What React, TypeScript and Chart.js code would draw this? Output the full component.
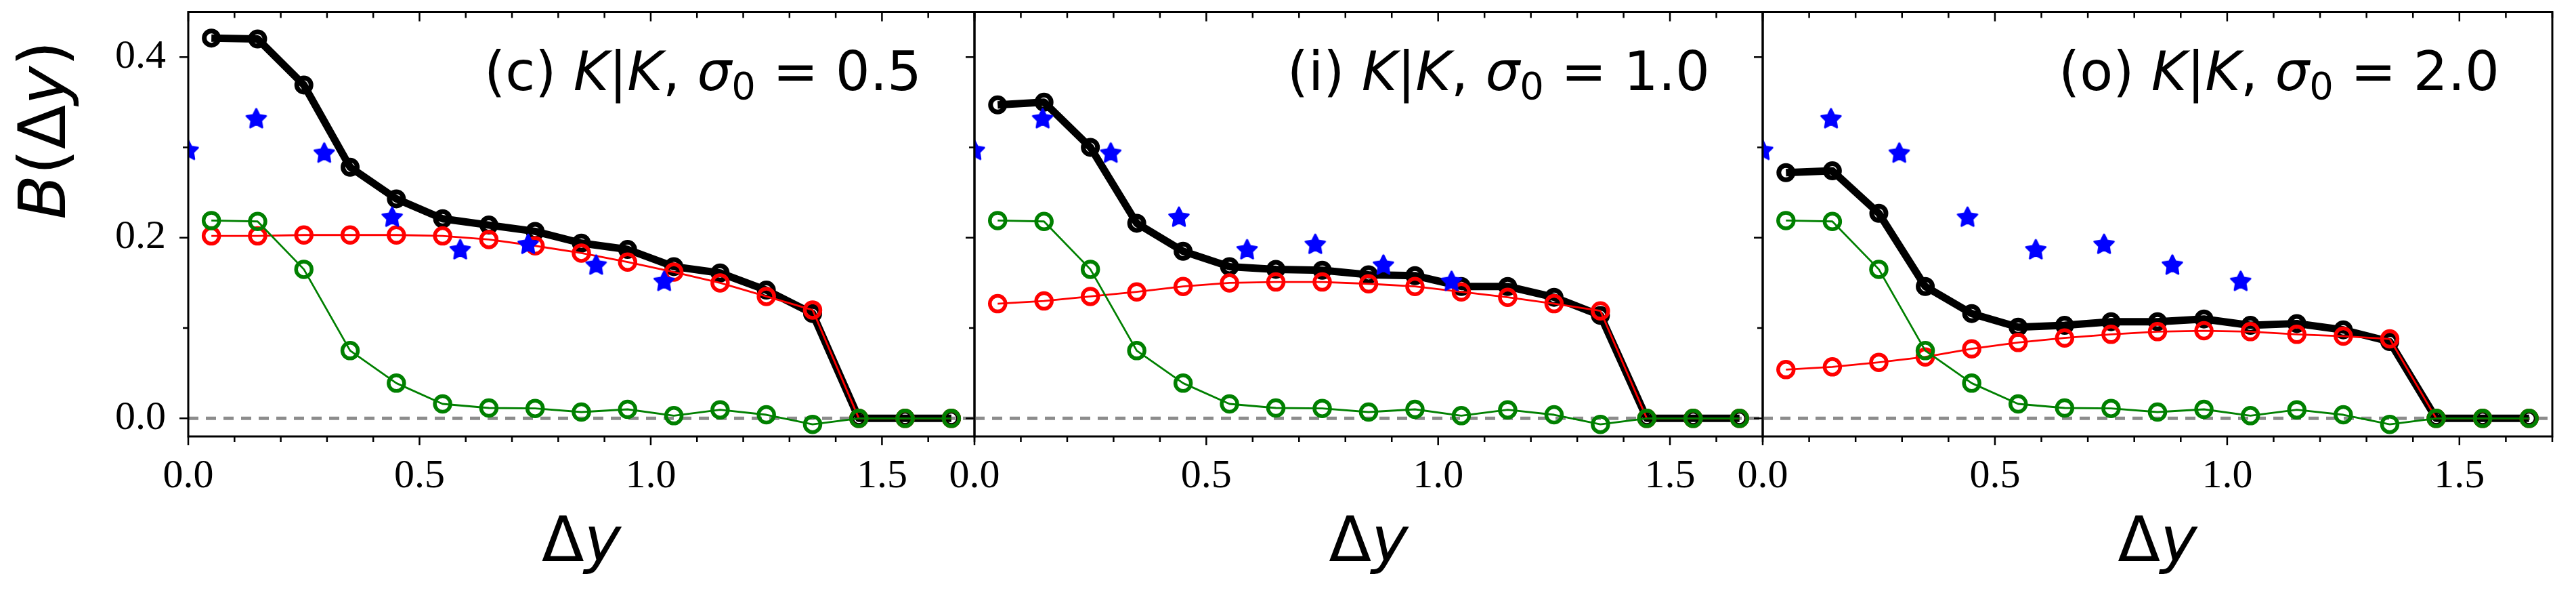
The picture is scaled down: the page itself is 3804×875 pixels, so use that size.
import React, { useEffect, useRef } from "react";
import { Chart, registerables } from "chart.js";

Chart.register(...registerables);

// ---------------- data ----------------
const X_VALUES = [0.05, 0.15, 0.25, 0.35, 0.45, 0.55, 0.65, 0.75, 0.85, 0.95, 1.05, 1.15, 1.25, 1.35, 1.45, 1.55, 1.65];

const STAR_X = [0.0, 0.147, 0.294, 0.441, 0.588, 0.735, 0.882, 1.029];
const STAR_Y = [0.297, 0.332, 0.294, 0.223, 0.187, 0.193, 0.17, 0.152];

const GREEN_VALUES = [0.219, 0.218, 0.165, 0.075, 0.039, 0.016, 0.0115, 0.011, 0.007, 0.01, 0.003, 0.0095, 0.004, -0.0066, 0, 0, 0];

const BLACK_C = [0.421, 0.42, 0.369, 0.278, 0.243, 0.221, 0.214, 0.207, 0.194, 0.187, 0.168, 0.161, 0.142, 0.116, 0, 0, 0];
const RED_C = [0.202, 0.202, 0.203, 0.203, 0.203, 0.202, 0.198, 0.191, 0.183, 0.173, 0.162, 0.15, 0.135, 0.12, 0, 0, 0];

const BLACK_I = [0.347, 0.35, 0.3, 0.216, 0.185, 0.168, 0.165, 0.164, 0.159, 0.158, 0.146, 0.146, 0.134, 0.114, 0, 0, 0];
const RED_I = [0.127, 0.13, 0.135, 0.14, 0.146, 0.15, 0.151, 0.151, 0.149, 0.146, 0.14, 0.134, 0.127, 0.119, 0, 0, 0];

const BLACK_O = [0.272, 0.274, 0.227, 0.146, 0.116, 0.101, 0.103, 0.107, 0.107, 0.11, 0.103, 0.105, 0.098, 0.085, 0, 0, 0];
const RED_O = [0.054, 0.057, 0.062, 0.068, 0.077, 0.084, 0.089, 0.093, 0.096, 0.097, 0.096, 0.093, 0.091, 0.088, 0, 0, 0];

const PANEL_LETTERS = ["(c)", "(i)", "(o)"];
const SIGMA_LABELS = ["0.5", "1.0", "2.0"];
const BLACK_SERIES = [BLACK_C, BLACK_I, BLACK_O];
const RED_SERIES = [RED_C, RED_I, RED_O];

const X_MIN = 0;
const X_MAX = 1.7;
const Y_MIN = -0.02;
const Y_MAX = 0.45;
const X_MAJOR = [0, 0.5, 1.0, 1.5];
const X_MINOR = [0.1, 0.2, 0.3, 0.4, 0.6, 0.7, 0.8, 0.9, 1.1, 1.2, 1.3, 1.4, 1.6, 1.7];
const Y_MAJOR = [0, 0.2, 0.4];
const Y_MINOR = [0.1, 0.3];

// ---------------- layout ----------------
const W = 3804;
const H = 875;
const PANEL_EDGES = [278, 1439, 2603, 3769];
const PLOT_TOP = 5;
const PLOT_BOTTOM = 644;
const Y_AXIS_W = 200;
const X_AXIS_H = 130;

const SANS = "'DejaVu Sans', sans-serif";
const SERIF = "'Liberation Serif', serif";

function makeStar(color: string, outer: number, inner: number): HTMLCanvasElement {
  const size = Math.ceil(outer * 2) + 6;
  const c = document.createElement("canvas");
  c.width = size;
  c.height = size;
  const g = c.getContext("2d")!;
  const cx = size / 2;
  const cy = size / 2 + 1;
  g.beginPath();
  for (let k = 0; k < 10; k++) {
    const r = k % 2 === 0 ? outer : inner;
    const a = -Math.PI / 2 + (k * Math.PI) / 5;
    const px = cx + r * Math.cos(a);
    const py = cy + r * Math.sin(a);
    if (k === 0) g.moveTo(px, py);
    else g.lineTo(px, py);
  }
  g.closePath();
  g.fillStyle = color;
  g.fill();
  g.strokeStyle = color;
  g.lineJoin = "round";
  g.lineWidth = 3;
  g.stroke();
  return c;
}

type Seg = { t: string; font: string; dy?: number };

function drawSegs(ctx: CanvasRenderingContext2D, segs: Seg[], x: number, y: number, align: "left" | "right" | "center") {
  let total = 0;
  const widths = segs.map((s) => {
    ctx.font = s.font;
    const w = ctx.measureText(s.t).width;
    total += w;
    return w;
  });
  let cur = align === "left" ? x : align === "right" ? x - total : x - total / 2;
  ctx.textAlign = "left";
  ctx.textBaseline = "alphabetic";
  segs.forEach((s, i) => {
    ctx.font = s.font;
    ctx.fillText(s.t, cur, y + (s.dy || 0));
    cur += widths[i];
  });
}

function decorPlugin(idx: number) {
  return {
    id: "panelDecor" + idx,
    afterDatasetsDraw(chart: any) {
      const { ctx, chartArea: a } = chart;
      const xs = chart.scales.x;
      const ys = chart.scales.y;
      ctx.save();
      ctx.strokeStyle = "#000";
      ctx.lineWidth = 3;
      ctx.strokeRect(a.left, a.top, a.right - a.left, a.bottom - a.top);

      ctx.lineWidth = 2.5;
      ctx.beginPath();
      X_MAJOR.forEach((v) => {
        const px = xs.getPixelForValue(v);
        ctx.moveTo(px, a.bottom);
        ctx.lineTo(px, a.bottom + 13);
        ctx.moveTo(px, a.top);
        ctx.lineTo(px, a.top + 14);
      });
      X_MINOR.forEach((v) => {
        const px = xs.getPixelForValue(v);
        ctx.moveTo(px, a.bottom);
        ctx.lineTo(px, a.bottom + 8);
        ctx.moveTo(px, a.top);
        ctx.lineTo(px, a.top + 9);
      });
      Y_MAJOR.forEach((v) => {
        const py = ys.getPixelForValue(v);
        ctx.moveTo(a.left, py);
        ctx.lineTo(a.left - 13, py);
      });
      Y_MINOR.forEach((v) => {
        const py = ys.getPixelForValue(v);
        ctx.moveTo(a.left, py);
        ctx.lineTo(a.left - 8, py);
      });
      ctx.stroke();

      // panel title
      ctx.fillStyle = "#000";
      const fs = 80;
      const norm = `${fs}px ${SANS}`;
      const ital = `italic ${fs}px ${SANS}`;
      const sub = `${Math.round(fs * 0.7)}px ${SANS}`;
      drawSegs(
        ctx,
        [
          { t: PANEL_LETTERS[idx] + " ", font: norm },
          { t: "K", font: ital },
          { t: "|", font: norm },
          { t: "K", font: ital },
          { t: ", ", font: norm },
          { t: "σ", font: ital },
          { t: "0", font: sub, dy: 13 },
          { t: " = " + SIGMA_LABELS[idx], font: norm },
        ],
        a.right - 78,
        a.top + 115,
        "right"
      );

      // x axis label
      drawSegs(
        ctx,
        [
          { t: "Δ", font: `92px ${SANS}` },
          { t: "y", font: `italic 92px ${SANS}` },
        ],
        (a.left + a.right) / 2,
        828,
        "center"
      );

      // y axis label
      if (idx === 0) {
        ctx.save();
        ctx.translate(96, 192);
        ctx.rotate(-Math.PI / 2);
        drawSegs(
          ctx,
          [
            { t: "B", font: `italic 96px ${SANS}` },
            { t: "(Δ", font: `96px ${SANS}` },
            { t: "y", font: `italic 96px ${SANS}` },
            { t: ")", font: `96px ${SANS}` },
          ],
          0,
          0,
          "center"
        );
        ctx.restore();
      }
      ctx.restore();
    },
  };
}

function fixFit(s: any, horiz: boolean) {
  if (horiz) s.height = X_AXIS_H;
  else s.width = Y_AXIS_W;
  s.paddingLeft = 0;
  s.paddingRight = 0;
  s.paddingTop = 0;
  s.paddingBottom = 0;
}

function Panel({ idx }: { idx: number }) {
  const ref = useRef<HTMLCanvasElement>(null);
  useEffect(() => {
    if (!ref.current) return;
    const star = makeStar("#0000ff", 15, 7.5);
    const pts = (ys: number[]) => X_VALUES.map((x, i) => ({ x, y: ys[i] }));
    const circleSet = (ys: number[], color: string, lw: number, r: number, bw: number, order: number) => ({
      data: pts(ys),
      borderColor: color,
      borderWidth: lw,
      pointRadius: r,
      pointBorderWidth: bw,
      pointBorderColor: color,
      pointBackgroundColor: "rgba(0,0,0,0)",
      pointStyle: "circle",
      fill: false,
      tension: 0,
      borderJoinStyle: "round",
      order,
      clip: 0,
    });
    const chart = new Chart(ref.current, {
      type: "line",
      data: {
        datasets: [
          {
            data: [
              { x: X_MIN, y: 0 },
              { x: X_MAX, y: 0 },
            ],
            borderColor: "#8c8c8c",
            borderWidth: 5,
            borderDash: [15, 11],
            pointRadius: 0,
            fill: false,
            order: 10,
            clip: 0,
          } as any,
          circleSet(BLACK_SERIES[idx], "#000000", 11, 10.5, 7, 4),
          circleSet(RED_SERIES[idx], "#ff0000", 2.8, 11.5, 5.5, 3),
          circleSet(GREEN_VALUES, "#008000", 2.8, 11.5, 5.5, 2),
          {
            data: STAR_X.map((x, i) => ({ x, y: STAR_Y[i] })),
            showLine: false,
            pointStyle: star,
            pointRadius: 14,
            borderColor: "#0000ff",
            backgroundColor: "#0000ff",
            order: 1,
            clip: 0,
          } as any,
        ],
      },
      options: {
        animation: false,
        responsive: false,
        devicePixelRatio: 1,
        events: [],
        layout: {
          padding: {
            left: PANEL_EDGES[idx] - Y_AXIS_W,
            right: W - PANEL_EDGES[idx + 1],
            top: PLOT_TOP,
            bottom: H - PLOT_BOTTOM - X_AXIS_H,
          },
        },
        plugins: {
          legend: { display: false },
          tooltip: { enabled: false },
          title: { display: false },
        },
        scales: {
          x: {
            type: "linear",
            min: X_MIN,
            max: X_MAX,
            grid: { display: false, drawTicks: false },
            border: { display: false },
            ticks: {
              font: { family: SERIF, size: 60 },
              color: "#000",
              padding: 23,
              autoSkip: false,
              maxRotation: 0,
              minRotation: 0,
              callback: (v: any) => Number(v).toFixed(1),
            },
            afterBuildTicks: (s: any) => {
              s.ticks = X_MAJOR.map((v) => ({ value: v }));
            },
            afterFit: (s: any) => fixFit(s, true),
          },
          y: {
            type: "linear",
            min: Y_MIN,
            max: Y_MAX,
            grid: { display: false, drawTicks: false },
            border: { display: false },
            ticks: {
              display: idx === 0,
              font: { family: SERIF, size: 60 },
              color: "#000",
              padding: 33,
              autoSkip: false,
              callback: (v: any) => Number(v).toFixed(1),
            },
            afterBuildTicks: (s: any) => {
              s.ticks = Y_MAJOR.map((v) => ({ value: v }));
            },
            afterFit: (s: any) => fixFit(s, false),
          },
        },
      } as any,
      plugins: [decorPlugin(idx)],
    });
    return () => chart.destroy();
  }, [idx]);
  return (
    <canvas
      ref={ref}
      width={W}
      height={H}
      style={{ position: "absolute", left: 0, top: 0, width: W, height: H }}
    />
  );
}

export default function App() {
  return (
    <div style={{ position: "absolute", left: 0, top: 0, width: W, height: H, background: "#fff", overflow: "hidden" }}>
      <Panel idx={0} />
      <Panel idx={1} />
      <Panel idx={2} />
    </div>
  );
}
